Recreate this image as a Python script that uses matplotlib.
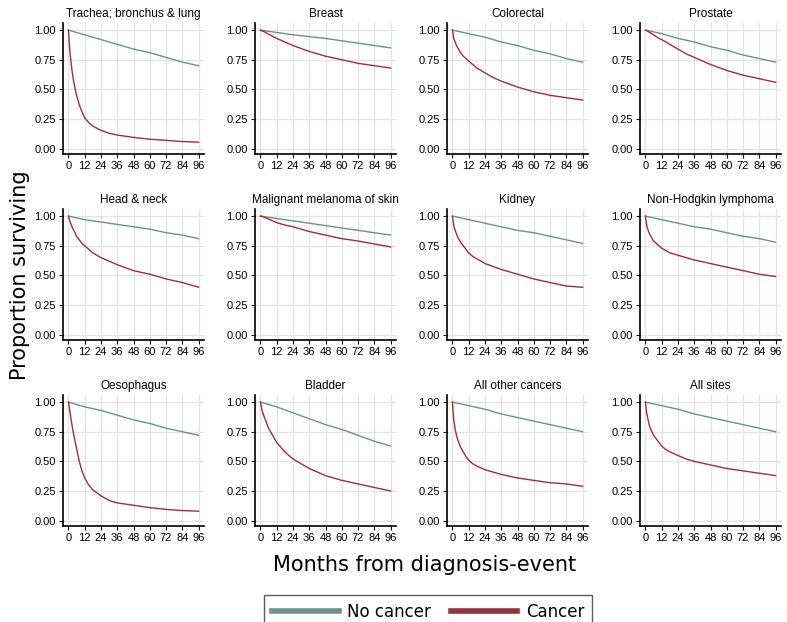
import matplotlib
matplotlib.use("Agg")
import matplotlib.pyplot as plt
from matplotlib.lines import Line2D

months_c = [0, 1, 2, 3, 4, 6, 8, 10, 12, 15, 18, 24, 30, 36, 48, 60, 72, 84, 96]
months_nc = [0, 12, 24, 36, 48, 60, 72, 84, 96]

sites = ["Trachea; bronchus & lung", "Breast", "Colorectal", "Prostate",
         "Head & neck", "Malignant melanoma of skin", "Kidney", "Non-Hodgkin lymphoma",
         "Oesophagus", "Bladder", "All other cancers", "All sites"]

cancer = [
    [1, .83, .72, .63, .56, .45, .37, .31, .26, .22, .19, .155, .13, .115, .095, .08, .07, .06, .055],
    [1, .995, .99, .985, .98, .965, .955, .94, .93, .915, .90, .87, .845, .82, .78, .75, .72, .70, .68],
    [1, .93, .90, .87, .85, .81, .78, .76, .74, .71, .68, .64, .60, .57, .52, .48, .45, .43, .41],
    [1, .995, .99, .98, .975, .96, .945, .93, .92, .90, .88, .84, .80, .77, .71, .66, .62, .59, .56],
    [1, .96, .93, .90, .88, .83, .80, .77, .75, .72, .69, .65, .62, .59, .54, .51, .47, .44, .40],
    [1, .998, .995, .99, .985, .975, .965, .955, .945, .935, .925, .91, .89, .87, .84, .81, .79, .765, .74],
    [1, .92, .88, .85, .82, .78, .75, .72, .69, .66, .64, .60, .575, .55, .51, .47, .44, .41, .40],
    [1, .92, .88, .85, .83, .79, .77, .75, .73, .71, .69, .67, .65, .63, .60, .57, .54, .51, .49],
    [1, .93, .85, .78, .72, .61, .50, .42, .36, .30, .26, .21, .17, .15, .13, .11, .095, .085, .08],
    [1, .94, .90, .87, .84, .78, .74, .70, .66, .62, .58, .52, .48, .44, .38, .34, .31, .28, .25],
    [1, .85, .77, .72, .68, .62, .58, .54, .51, .48, .46, .43, .41, .39, .36, .34, .32, .31, .29],
    [1, .90, .85, .80, .77, .72, .69, .66, .63, .60, .58, .55, .52, .50, .47, .44, .42, .40, .38],
]

no_cancer = [
    [1, .96, .92, .88, .84, .81, .77, .73, .70],
    [1, .98, .96, .945, .93, .91, .89, .87, .85],
    [1, .97, .94, .90, .87, .83, .80, .76, .73],
    [1, .97, .93, .90, .86, .83, .79, .76, .73],
    [1, .97, .95, .93, .91, .89, .86, .84, .81],
    [1, .98, .96, .94, .92, .90, .88, .86, .84],
    [1, .97, .94, .91, .88, .86, .83, .80, .77],
    [1, .97, .94, .91, .89, .86, .83, .81, .78],
    [1, .96, .93, .89, .85, .82, .78, .75, .72],
    [1, .96, .91, .86, .81, .77, .72, .67, .63],
    [1, .97, .94, .90, .87, .84, .81, .78, .75],
    [1, .97, .94, .90, .87, .84, .81, .78, .75],
]

xticks = list(range(0, 97, 12))
yticks = [0, .25, .5, .75, 1]

col_nc = "#6e9188"
col_c = "#93343a"

W, H = 787, 622
fig = plt.figure(figsize=(W / 100, H / 100), dpi=100)

lefts = [63, 255, 447, 640]
tops = [23, 209, 395]
aw, ah = 141, 131

for i, name in enumerate(sites):
    r, c = divmod(i, 4)
    ax = fig.add_axes([lefts[c] / W, 1 - (tops[r] + ah) / H, aw / W, ah / H])
    ax.plot(months_nc, no_cancer[i], color=col_nc, lw=1.0)
    ax.plot(months_c, cancer[i], color=col_c, lw=1.0)
    ax.set_xlim(-4, 100)
    ax.set_ylim(-0.045, 1.06)
    ax.set_xticks(xticks)
    ax.set_yticks(yticks)
    ax.set_yticklabels([f"{v:.2f}" for v in yticks])
    ax.tick_params(labelsize=8, length=3, width=0.8, pad=2)
    for lab in ax.get_xticklabels() + ax.get_yticklabels():
        lab.set_family("Liberation Sans")
    ax.grid(True, color="#e3e3e3", lw=0.9)
    ax.set_axisbelow(True)
    for s in ("top", "right"):
        ax.spines[s].set_visible(False)
    for s in ("left", "bottom"):
        ax.spines[s].set_linewidth(1.2)
    ax.set_title(name, fontsize=8.5, pad=4, family="Liberation Sans")

fig.text(20 / W, 1 - 275 / H, "Proportion surviving", rotation=90,
         ha="center", va="center", fontsize=15)
fig.text(425 / W, 1 - 565 / H, "Months from diagnosis-event",
         ha="center", va="center", fontsize=15)

handles = [Line2D([], [], color=col_nc, lw=4), Line2D([], [], color=col_c, lw=4)]
fig.legend(handles, ["No cancer", "Cancer"], loc="upper center",
           bbox_to_anchor=(428 / W, 1 - 587 / H), ncol=2, fontsize=12,
           frameon=True, fancybox=False, edgecolor="#333333", handlelength=4,
           columnspacing=1.2, borderpad=0.45, handletextpad=0.5)

fig.savefig("out.png", dpi=100)
